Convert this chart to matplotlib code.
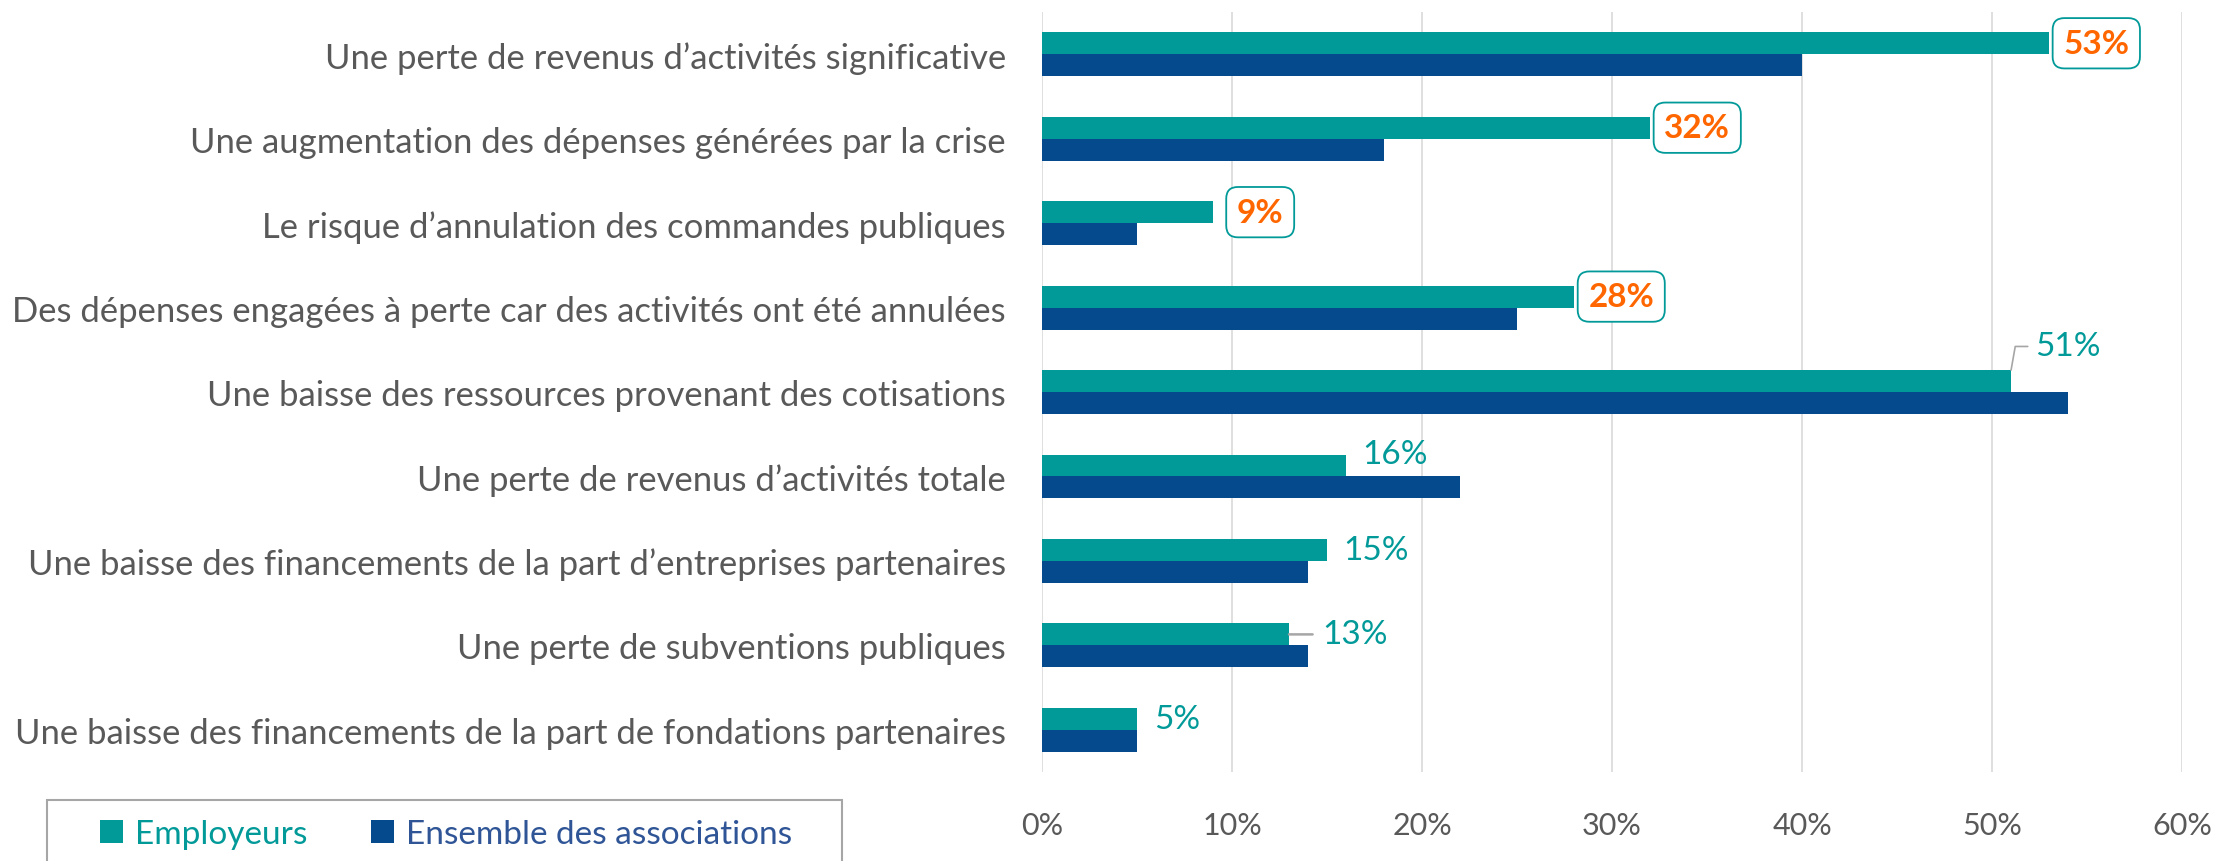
import matplotlib
matplotlib.use("Agg")
import matplotlib.pyplot as plt
from matplotlib.patches import Rectangle

# data
categories = [
    "Une perte de revenus d’activités significative",
    "Une augmentation des dépenses générées par la crise",
    "Le risque d’annulation des commandes publiques",
    "Des dépenses engagées à perte car des activités ont été annulées",
    "Une baisse des ressources provenant des cotisations",
    "Une perte de revenus d’activités totale",
    "Une baisse des financements de la part d’entreprises partenaires",
    "Une perte de subventions publiques",
    "Une baisse des financements de la part de fondations partenaires",
]
employeurs = [53, 32, 9, 28, 51, 16, 15, 13, 5]
ensemble = [40, 18, 5, 25, 54, 22, 14, 14, 5]
highlighted = [True, True, True, True, False, False, False, False, False]
series_names = ["Employeurs", "Ensemble des associations"]
xticks = [0, 10, 20, 30, 40, 50, 60]

TEAL = "#029A99"
NAVY = "#064A8E"
NAVY_TEXT = "#2F5597"
ORANGE = "#FF6600"
GREY = "#595959"
GRID = "#D9D9D9"
LEADER = "#A6A6A6"
FONT = "Lato"

plt.rcParams['font.family'] = [FONT, 'DejaVu Sans']

fig = plt.figure(figsize=(22.16, 8.62), dpi=100)
ax = fig.add_axes([0.4702, 0.1032, 0.5145, 0.8817])

h = 0.26
ypos = list(range(len(categories)))
ax.barh([y - h / 2 for y in ypos], employeurs, height=h, color=TEAL, label=series_names[0])
ax.barh([y + h / 2 for y in ypos], ensemble, height=h, color=NAVY, label=series_names[1])

ax.set_xlim(0, 60)
ax.set_ylim(len(categories) - 0.5, -0.5)
ax.set_xticks(xticks)
ax.set_xticklabels([f"{t}%" for t in xticks], fontsize=22, color=GREY)
ax.set_yticks(ypos)
ax.set_yticklabels(categories, fontsize=24.9, color=GREY)
ax.tick_params(axis='y', length=0, pad=26)
ax.tick_params(axis='x', length=0, pad=28)
ax.grid(axis='x', color=GRID, linewidth=1.2)
ax.set_axisbelow(True)
for s in ax.spines.values():
    s.set_visible(False)

# data labels for Employeurs
for i, v in enumerate(employeurs):
    y = i - h / 2
    if highlighted[i]:
        ax.annotate(f"{v}%", xy=(v, y), xytext=(34, 0), textcoords='offset points',
                    ha='center', va='center', fontsize=24, fontweight='bold', color=ORANGE,
                    bbox=dict(boxstyle='round,pad=0.32,rounding_size=0.35', fc='white',
                              ec=TEAL, lw=1.3))
    elif v == 51:
        ax.annotate(f"{v}%", xy=(v, y - h / 2), xytext=(17, 17), textcoords='offset points',
                    ha='left', va='center', fontsize=24, color=TEAL,
                    arrowprops=dict(arrowstyle='-', color=LEADER, lw=1.2,
                                    shrinkA=3, shrinkB=0,
                                    connectionstyle='angle,angleA=0,angleB=80,rad=0'))
    elif v == 13:
        ax.annotate(f"{v}%", xy=(v, y), xytext=(24, 0), textcoords='offset points',
                    ha='left', va='center', fontsize=24, color=TEAL,
                    arrowprops=dict(arrowstyle='-', color=LEADER, lw=1.8,
                                    shrinkA=5, shrinkB=0))
    else:
        dy = 8 if v == 16 else 0
        ax.annotate(f"{v}%", xy=(v, y), xytext=(12, dy), textcoords='offset points',
                    ha='left', va='center', fontsize=24, color=TEAL)

# legend with its own frame, cut by the bottom edge like the original
W, H = 2216, 862
fig.patches.append(Rectangle((47 / W, -0.05), (842 - 47) / W, 0.05 + 61 / H,
                             transform=fig.transFigure, fill=False,
                             ec=LEADER, lw=1.5))
leg = fig.legend(loc='center', bbox_to_anchor=(446 / W, 1 - 835 / H), ncol=2,
                 fontsize=24, frameon=False,
                 handlelength=0.7, handleheight=0.7, handletextpad=0.35, columnspacing=1.9,
                 borderpad=0, borderaxespad=0)
for txt, col in zip(leg.get_texts(), [TEAL, NAVY_TEXT]):
    txt.set_color(col)

fig.savefig("out.png", dpi=100)
